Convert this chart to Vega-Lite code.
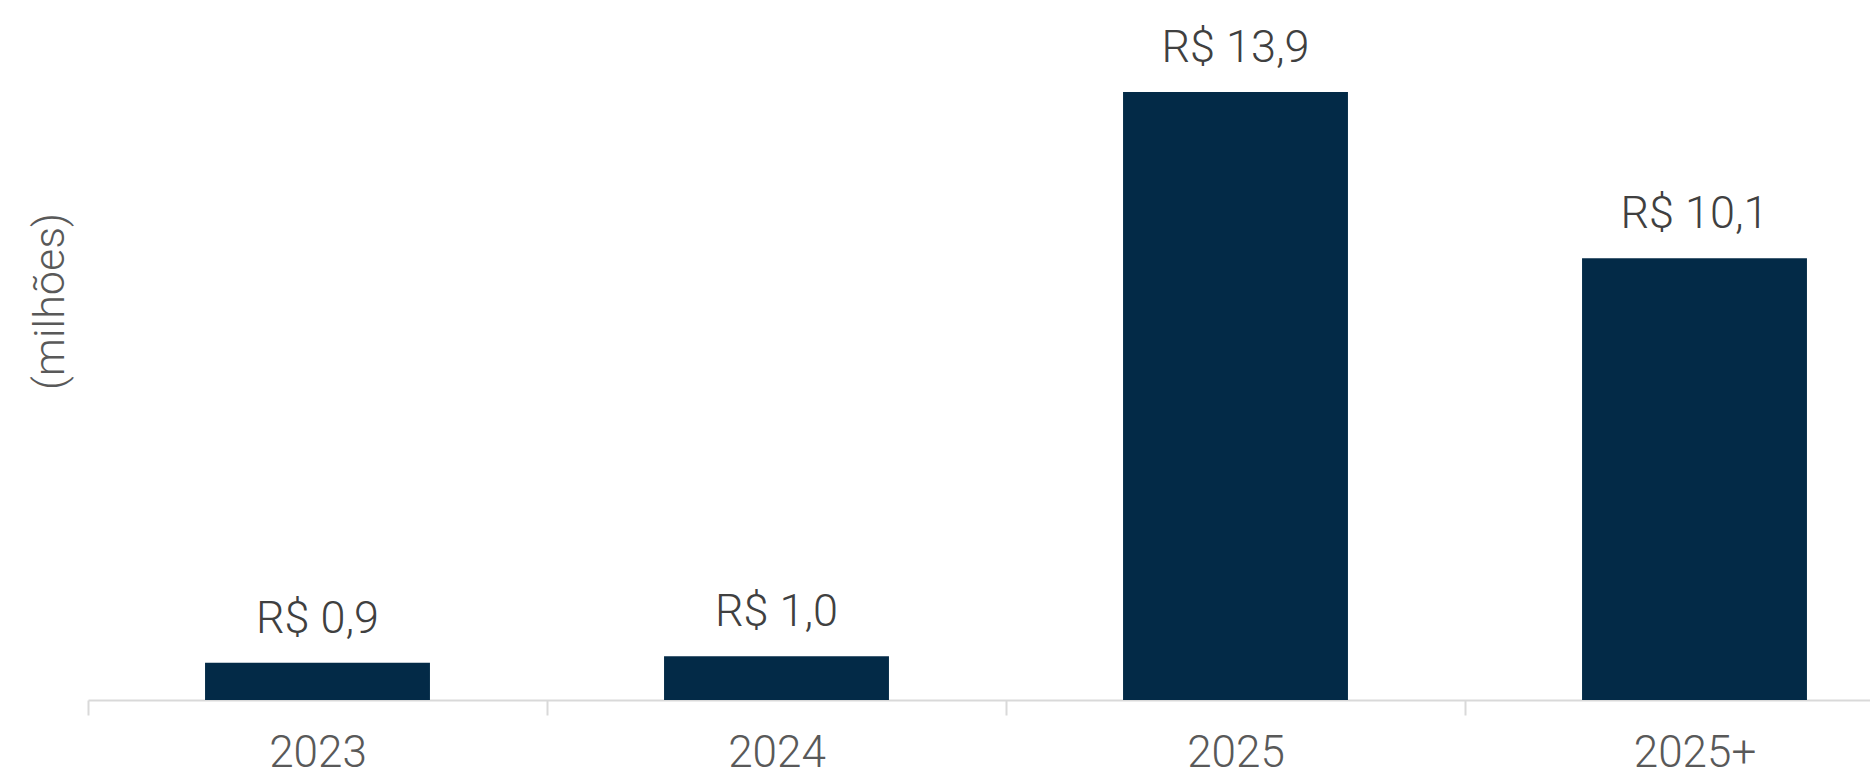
{
  "$schema": "https://vega.github.io/schema/vega-lite/v6.json",
  "width": 1782,
  "height": 700,
  "autosize": {"type": "none"},
  "padding": {"left": 88, "top": 0, "right": 0, "bottom": 72},
  "background": "#ffffff",
  "config": {"view": {"stroke": null}},
  "data": {
    "values": [
      {"ano": "2023", "valor": 0.85, "rotulo": "R$ 0,9"},
      {"ano": "2024", "valor": 1.0, "rotulo": "R$ 1,0"},
      {"ano": "2025", "valor": 13.9, "rotulo": "R$ 13,9"},
      {"ano": "2025+", "valor": 10.1, "rotulo": "R$ 10,1"}
    ]
  },
  "encoding": {
    "x": {
      "field": "ano",
      "type": "nominal",
      "sort": null,
      "scale": {"range": [0, 1836], "paddingInner": 0, "paddingOuter": 0},
      "axis": {
        "title": null,
        "labelAngle": 0,
        "labelFont": "Roboto",
        "labelFontWeight": 300,
        "labelFontSize": 44,
        "labelColor": "#595959",
        "labelBaseline": "alphabetic",
        "labelPadding": 51,
        "tickBand": "extent",
        "tickSize": 15,
        "tickColor": "#d9d9d9",
        "tickWidth": 2,
        "domainColor": "#d9d9d9",
        "domainWidth": 2,
        "grid": false
      }
    },
    "y": {
      "field": "valor",
      "type": "quantitative",
      "scale": {"domain": [0, 16], "nice": false},
      "axis": {
        "title": "(milhões)",
        "labels": false,
        "ticks": false,
        "domain": false,
        "grid": false,
        "titleFont": "Roboto",
        "titleFontSize": 43,
        "titleFontWeight": 300,
        "titleColor": "#595959",
        "titleAngle": -90,
        "titleX": -38,
        "titleY": 301,
        "titleAlign": "center",
        "titleBaseline": "middle"
      }
    }
  },
  "layer": [
    {"mark": {"type": "bar", "color": "#032A47", "width": {"band": 0.49}}},
    {
      "mark": {
        "type": "text",
        "baseline": "alphabetic",
        "dy": -30,
        "font": "Roboto",
        "fontWeight": 300,
        "fontSize": 45,
        "color": "#404040"
      },
      "encoding": {"text": {"field": "rotulo"}}
    }
  ]
}
